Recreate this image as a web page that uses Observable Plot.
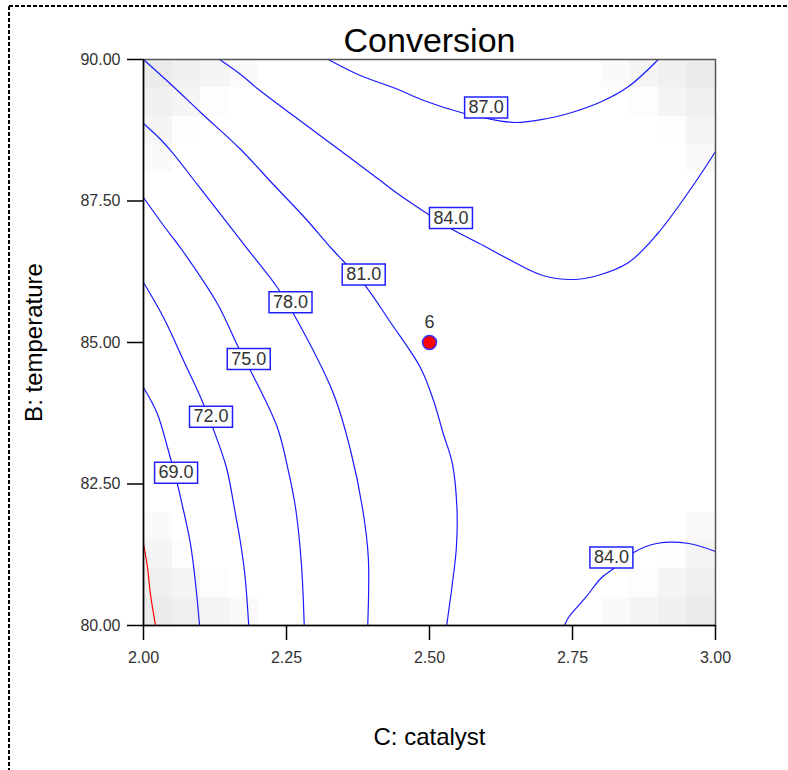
<!DOCTYPE html>
<html>
<head>
<meta charset="utf-8">
<script src="https://cdn.jsdelivr.net/npm/d3@7"></script>
<script src="https://cdn.jsdelivr.net/npm/@observablehq/plot@0.6"></script>
<style>
html, body { margin: 0; padding: 0; background: #fff; }
#wrap { position: relative; width: 788px; height: 770px; overflow: hidden; }
#chart svg { display: block; }
#border { position: absolute; left: 0; top: 0; pointer-events: none; }
</style>
</head>
<body>
<div id="wrap">
  <div id="chart"></div>
  <svg id="border" width="788" height="770">
    <line x1="9" y1="6" x2="788" y2="6" stroke="#000" stroke-width="2" stroke-dasharray="4 2"/>
    <line x1="9" y1="6" x2="9" y2="770" stroke="#000" stroke-width="2" stroke-dasharray="4 2"/>
  </svg>
</div>
<script>
// ---------- data ----------
const title = "Conversion";
const xLabel = "C: catalyst";
const yLabel = "B: temperature";
const xTicks = [2.00, 2.25, 2.50, 2.75, 3.00];
const yTicks = [80.0, 82.5, 85.0, 87.5, 90.0];

// contour lines: [catalyst, temperature] points
const contourLevel = ["66.0", "69.0", "72.0", "75.0", "78.0", "81.0", "84.0", "84.0", "87.0"];
const contour66 = [[2.000, 81.449], [2.007, 81.025], [2.012, 80.565], [2.021, 80.0]];
const contour69 = [[2.000, 84.205], [2.024, 83.746], [2.042, 83.145], [2.059, 82.509], [2.066, 82.208], [2.082, 81.449], [2.091, 80.742], [2.098, 80.0]];
const contour72 = [[2.000, 86.060], [2.035, 85.442], [2.070, 84.682], [2.100, 84.028], [2.121, 83.498], [2.145, 82.791], [2.159, 82.067], [2.169, 81.502], [2.177, 80.919], [2.184, 80.0]];
const contour75 = [[2.000, 87.562], [2.035, 87.067], [2.068, 86.625], [2.129, 85.689], [2.166, 84.912], [2.187, 84.505], [2.234, 83.498], [2.252, 82.791], [2.266, 82.067], [2.276, 81.095], [2.281, 80.0]];
const contour78 = [[2.000, 88.869], [2.030, 88.587], [2.052, 88.339], [2.094, 87.792], [2.184, 86.625], [2.234, 85.972], [2.262, 85.512], [2.332, 84.099], [2.362, 83.092], [2.383, 82.067], [2.393, 81.201], [2.392, 80.0]];
const contour81 = [[2.000, 90.0], [2.052, 89.523], [2.100, 89.064], [2.170, 88.410], [2.227, 87.792], [2.280, 87.226], [2.332, 86.625], [2.385, 86.042], [2.432, 85.353], [2.484, 84.558], [2.507, 83.975], [2.524, 83.392], [2.540, 82.862], [2.548, 82.067], [2.547, 81.378], [2.540, 80.742], [2.530, 80.0]];
const contour84a = [[2.133, 90.0], [2.170, 89.735], [2.199, 89.488], [2.257, 89.046], [2.344, 88.392], [2.414, 87.862], [2.449, 87.597], [2.493, 87.297], [2.537, 87.014], [2.594, 86.714], [2.636, 86.484], [2.698, 86.184], [2.750, 86.113], [2.794, 86.184], [2.848, 86.413], [2.899, 86.926], [2.962, 87.792], [3.000, 88.375]];
const contour84b = [[2.736, 80.0], [2.743, 80.141], [2.773, 80.495], [2.801, 80.848], [2.822, 81.007], [2.857, 81.290], [2.897, 81.449], [2.953, 81.449], [3.000, 81.307]];
const contour87 = [[2.323, 90.0], [2.379, 89.717], [2.441, 89.488], [2.490, 89.276], [2.561, 89.046], [2.593, 88.975], [2.650, 88.887], [2.706, 88.958], [2.743, 89.046], [2.801, 89.258], [2.848, 89.523], [2.900, 90.0]];
const contourPaths = [contour66, contour69, contour72, contour75, contour78, contour81, contour84a, contour84b, contour87];

// contour labels
const labelText = ["87.0", "84.0", "81.0", "78.0", "75.0", "72.0", "69.0", "84.0"];
const labelCatalyst = [2.599, 2.5375, 2.385, 2.257, 2.184, 2.118, 2.057, 2.818];
const labelTemp = [89.15, 87.20, 86.20, 85.71, 84.71, 83.69, 82.70, 81.20];

// design point
const runCatalyst = [2.50];
const runTemp = [85.0];
const runId = ["6"];

// standard-error shading cells (lower-left corner of each grid cell, relative shade)
const seCatalyst = [2.00, 2.05, 2.10, 2.15, 2.00, 2.05, 2.10, 2.00, 2.05, 2.00,
                    2.95, 2.90, 2.85, 2.80, 2.95, 2.90, 2.85, 2.95, 2.90, 2.95,
                    2.00, 2.05, 2.10, 2.15, 2.00, 2.05, 2.10, 2.00, 2.05, 2.00,
                    2.95, 2.90, 2.85, 2.80, 2.95, 2.90, 2.85, 2.95, 2.90, 2.95];
const seTemp = [89.5, 89.5, 89.5, 89.5, 89.0, 89.0, 89.0, 88.5, 88.5, 88.0,
                89.5, 89.5, 89.5, 89.5, 89.0, 89.0, 89.0, 88.5, 88.5, 88.0,
                80.0, 80.0, 80.0, 80.0, 80.5, 80.5, 80.5, 81.0, 81.0, 81.5,
                80.0, 80.0, 80.0, 80.0, 80.5, 80.5, 80.5, 81.0, 81.0, 81.5];
const seLevel = [4, 3, 2, 1, 3, 2, 0.5, 2, 0.5, 1,
                 4, 3, 2, 1, 3, 2, 0.5, 2, 0.5, 1,
                 4, 3, 2, 1, 3, 2, 0.5, 2, 0.5, 1,
                 4, 3, 2, 1, 3, 2, 0.5, 2, 0.5, 1];
const cellStepCatalyst = 0.05;
const cellStepTemp = 0.5;

// ---------- tables ----------
const lineRows = [];
contourPaths.forEach((path, i) => {
  path.forEach(([c, t]) => lineRows.push({id: i, level: contourLevel[i], c, t}));
});
const blueRows = lineRows.filter(d => d.level !== "66.0");
const redRows = lineRows.filter(d => d.level === "66.0");
const labels = labelText.map((text, i) => ({text, c: labelCatalyst[i], t: labelTemp[i]}));
const runs = runId.map((id, i) => ({id, c: runCatalyst[i], t: runTemp[i]}));
const cells = seLevel.map((v, i) => ({c: seCatalyst[i], t: seTemp[i], v}));

const boxSymbol = {
  draw(context) { context.rect(-21.5, -10.5, 43, 21); }
};
const fmt = d3.format(".2f");
const font = "'Liberation Sans', Arial, Helvetica, sans-serif";

const chart = Plot.plot({
  width: 788,
  height: 770,
  marginLeft: 143,
  marginRight: 73,
  marginTop: 59,
  marginBottom: 145,
  style: {fontFamily: font, fontSize: "16px", background: "transparent", color: "#000"},
  x: {domain: [xTicks[0], xTicks[xTicks.length - 1]]},
  y: {domain: [yTicks[0], yTicks[yTicks.length - 1]]},
  color: {type: "linear", domain: [0, 4], range: ["#ffffff", "#ebebeb"]},
  marks: [
    Plot.rect(cells, {x1: "c", x2: d => d.c + cellStepCatalyst, y1: "t", y2: d => d.t + cellStepTemp, fill: "v", shapeRendering: "crispEdges"}),
    Plot.line(blueRows, {x: "c", y: "t", z: "id", stroke: "#1a1aff", strokeWidth: 1.2, curve: "catmull-rom"}),
    Plot.line(redRows, {x: "c", y: "t", z: "id", stroke: "#ff0000", strokeWidth: 1.2, curve: "catmull-rom"}),
    Plot.dot(labels, {x: "c", y: "t", symbol: boxSymbol, r: 5, fill: "white", stroke: "#2020ff", strokeWidth: 1.5}),
    Plot.text(labels, {x: "c", y: "t", text: "text", fontSize: 18, fill: "#333"}),
    Plot.dot(runs, {x: "c", y: "t", r: 7, fill: "#ff0000", stroke: "#3333ff", strokeWidth: 1.5}),
    Plot.text(runs, {x: "c", y: "t", text: "id", dy: -20, fontSize: 18, fill: "#333"}),
    Plot.frame({stroke: "#555", strokeWidth: 1.5}),
    Plot.ruleX([xTicks[0]], {stroke: "#000", strokeWidth: 1.5}),
    Plot.ruleY([yTicks[0]], {stroke: "#000", strokeWidth: 1.5}),
    Plot.axisX(xTicks, {tickFormat: fmt, tickSize: 15, tickPadding: 11, stroke: "#000", strokeWidth: 1.5, fill: "#333", fontSize: 16, label: null}),
    Plot.axisY(yTicks, {tickFormat: fmt, tickSize: 16, tickPadding: 7, stroke: "#000", strokeWidth: 1.5, fill: "#333", fontSize: 16, label: null}),
    Plot.text([title], {text: d => d, frameAnchor: "top", lineAnchor: "middle", dy: -18, fontSize: 34, fill: "#000"}),
    Plot.text([xLabel], {text: d => d, frameAnchor: "bottom", lineAnchor: "middle", dy: 112, fontSize: 24, fill: "#000"}),
    Plot.text([yLabel], {text: d => d, frameAnchor: "left", textAnchor: "middle", lineAnchor: "middle", dx: -109, rotate: -90, fontSize: 24, fill: "#000"})
  ]
});
document.getElementById("chart").appendChild(chart);
</script>
</body>
</html>
